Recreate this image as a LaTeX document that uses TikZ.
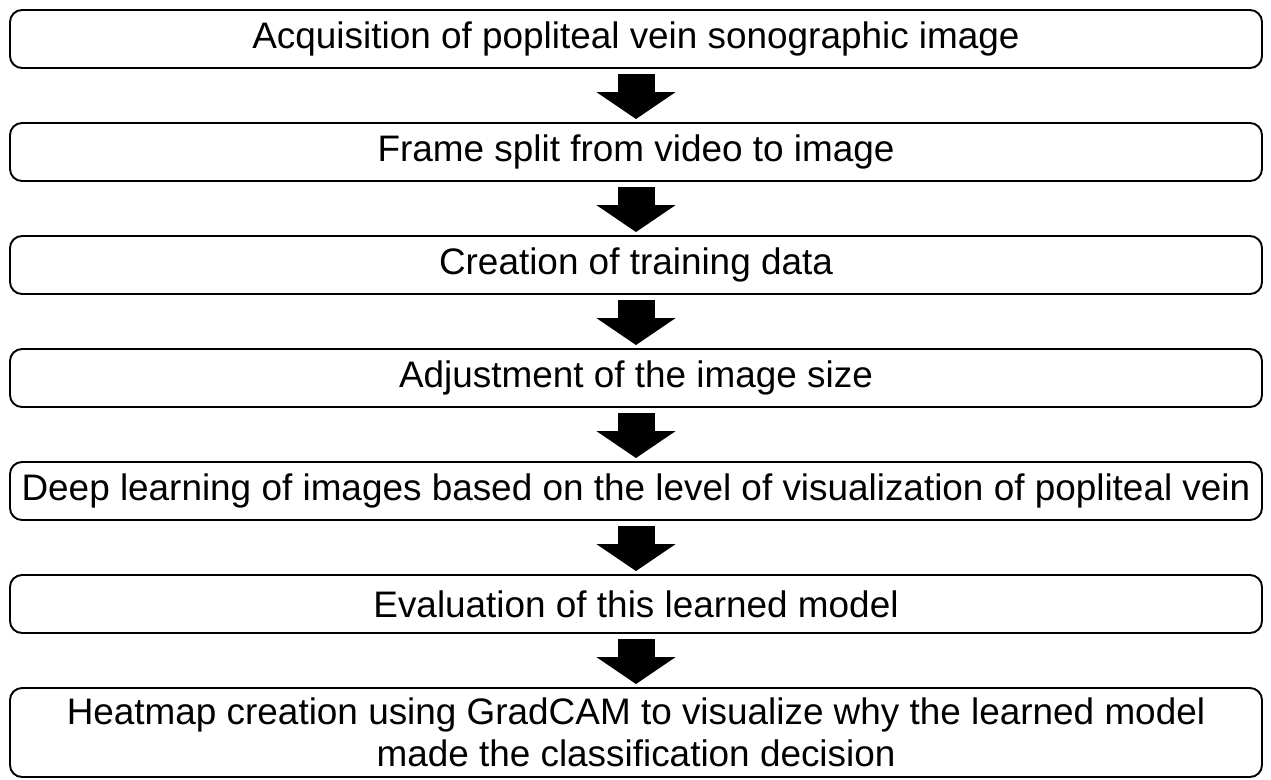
\documentclass[tikz,border=0pt]{standalone}
\usepackage{fontspec}
\setmainfont{Liberation Sans}
\usetikzlibrary{arrows.meta, positioning}
\tikzstyle{stage}=[draw,line width=1.1pt,rounded corners=0.24cm,rectangle,minimum width=25.04cm,minimum height=1.16cm,inner sep=0pt,fill=white]
\tikzstyle{every node}=[font=\fontsize{21}{24}\selectfont]
\tikzstyle{flow}=[line width=0.74cm,-{Triangle[length=0.54cm,width=1.56cm]}]

\begin{document}
\begin{tikzpicture}[node distance=2.26cm]
    \useasboundingbox (0,0) rectangle (25.42,-15.58);
    \node[stage] (acq) at (12.72,-0.78) {Acquisition of popliteal vein sonographic image};
    \node[stage, below of=acq] (split) {Frame split from video to image};
    \node[stage, below of=split] (train) {Creation of training data};
    \node[stage, below of=train] (resize) {Adjustment of the image size};
    \node[stage, below of=resize] (deep) {Deep learning of images based on the level of visualization of popliteal vein};
    \node[stage, below of=deep] (eval) {Evaluation of this learned model};
    \node[stage, below of=eval, node distance=2.57cm, minimum height=1.78cm, align=center] (heat) {Heatmap creation using GradCAM to visualize why the learned model\\made the classification decision};
    \draw[flow] ([yshift=-0.1cm]acq.south) -- ([yshift=0.06cm]split.north);
    \draw[flow] ([yshift=-0.1cm]split.south) -- ([yshift=0.06cm]train.north);
    \draw[flow] ([yshift=-0.1cm]train.south) -- ([yshift=0.06cm]resize.north);
    \draw[flow] ([yshift=-0.1cm]resize.south) -- ([yshift=0.06cm]deep.north);
    \draw[flow] ([yshift=-0.1cm]deep.south) -- ([yshift=0.06cm]eval.north);
    \draw[flow] ([yshift=-0.1cm]eval.south) -- ([yshift=0.06cm]heat.north);
\end{tikzpicture}
\end{document}
